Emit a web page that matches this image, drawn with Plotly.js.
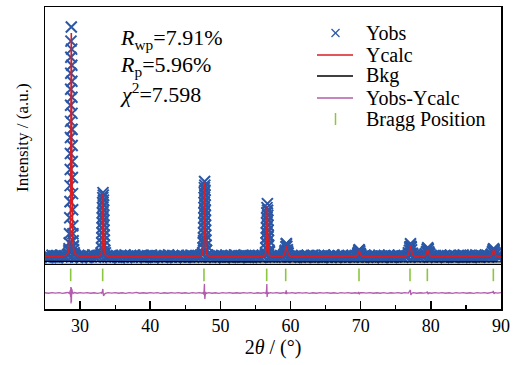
<!DOCTYPE html>
<html>
<head>
<meta charset="utf-8">
<script src="https://cdn.plot.ly/plotly-3.0.1.min.js"></script>
<style>
html,body{margin:0;padding:0;background:#fff;}
#chart{width:517px;height:365px;}
</style>
</head>
<body>
<div id="chart"></div>
<script>
// ---- 2theta grid of the observed pattern (step scan) ----
const tthStart = 25.0;
const tthStep = 0.2;
// observed intensity on the step grid (a.u.)
const yobsGrid = [
 108, 96,112,101, 93,115,104, 98,110, 92,106,117, 99,103,111, 95,120,160,650,1370,
 200,125,109, 97,114,102, 91,108,116,100, 94,113,105, 98,119,103, 96,110,101,115,
 130,490,315,140,112, 99,107, 93,116,104, 97,111,102, 90,114,106, 99,118, 95,108,
 101,113, 96,109,117, 92,105,100,112, 98,115,103, 94,110,107, 99,116, 91,104,112,
  97,108,114,100, 93,111,106, 95,118,102, 99,113,104, 92,109,116,101, 97,110,105,
  94,112,103, 99,117,106, 96,110,101,114, 98,108,125,260,565,165,118,103, 96,111,
 107, 93,115,100,109, 97,113,104, 91,116,102, 98,111,106, 95,119,103,100,108, 94,
 112,101, 97,114,105, 92,110, 99,117,103, 96,109,113,100, 94,111,106,120,340,300,
 150,112, 99,108, 95,115,102, 97,110,104,118,150,230,150,105, 98,113,101, 93,109,
 116,104, 96,111,100,107, 93,114,102, 98,110,117, 95,106,101,113, 99,108, 92,115,
 103, 97,112,106, 94,109,118,100, 96,111,104, 99,115,102, 93,108,113, 97,105,110,
  98,114,101,135,165,112, 96,107,117,103, 95,110,100,106, 92,113,104, 99,116,102,
 109, 94,111,105, 98,115,101, 93,108,112, 97,104,117,100,106, 95,113,102,110,140,
 190,195,130,108, 99,114,103, 96,111,105,118,130,150,180,135,101, 97,112,106, 94,
 110,103,117, 98,107,113, 95,101,109,116,100, 93,112,105, 97,114,102,108,119, 96,
 104,111, 99,115, 93,107,102,118,100,109, 96,113,105, 98,110,117,101,108,125,150,
 170,128,106, 99,112,103
];
// extra observed points on the steep flanks of the reflections
const yobsPeakX = [
 28.35,28.42,28.46,28.50,28.53,28.56,28.58,28.60,28.62,28.63,28.64,28.65,28.66,28.67,28.68,28.70,28.75,
 28.80,28.82,28.83,28.84,28.85,28.86,28.87,28.88,28.90,28.92,28.94,28.96,28.98,29.01,29.04,29.08,29.16,
 33.02,33.06,33.09,33.11,33.13,33.15,33.17,33.18,33.19,33.20,33.22,33.24,33.27,
 33.31,33.33,33.35,33.36,33.37,33.38,33.39,33.41,33.43,33.45,33.48,33.52,
 47.48,47.52,47.56,47.59,47.61,47.63,47.64,47.65,47.66,47.67,47.68,47.69,47.70,47.72,47.75,
 47.78,47.80,47.81,47.82,47.83,47.84,47.85,47.86,47.88,47.89,47.91,47.93,47.97,48.02,
 56.43,56.47,56.51,56.54,56.56,56.58,56.59,56.60,56.62,56.64,
 56.70,56.73,56.75,56.76,56.78,56.80,56.82,56.85,56.88,56.93,
 59.15,59.25,59.33,59.40,59.47,59.55,59.65,
 69.55,69.65,69.72,69.78,69.85,69.93,70.02,
 76.85,76.95,77.03,77.10,77.17,77.25,77.35,
 79.30,79.40,79.48,79.55,79.62,79.70,79.80,
 88.70,88.80,88.88,88.95,89.02,89.10,89.20
];
const yobsPeakY = [
 130,180,240,330,490,650,810,970,1130,1290,1450,1610,1770,1930,2090,2250,2390,
 2170,2010,1850,1690,1530,1370,1210,1050,890,730,570,410,330,260,210,170,140,
 140,190,240,290,340,390,440,490,540,590,640,690,740,
 715,665,615,565,515,465,415,365,315,265,215,165,
 140,190,240,290,340,390,440,490,540,590,640,690,740,790,850,
 815,765,715,665,615,565,515,465,415,365,315,265,215,165,
 140,190,240,290,340,390,440,490,540,590,
 630,565,515,465,415,365,315,265,215,165,
 130,165,200,230,205,170,135,
 120,140,160,170,155,135,120,
 130,165,200,230,205,170,135,
 125,150,175,190,175,150,125,
 125,150,170,180,165,145,125
];
// calculated profile
const ycalcX = [
 25.0,
 27.25,27.95,28.25,28.45,28.55,28.60,28.65,28.69,28.72,28.75,28.78,28.81,28.85,28.90,28.95,29.05,29.25,29.55,30.25,
 31.78,32.48,32.78,32.98,33.08,33.13,33.18,33.22,33.25,33.28,33.31,33.34,33.38,33.43,33.48,33.58,33.78,34.08,34.78,
 46.25,46.95,47.25,47.45,47.55,47.60,47.65,47.69,47.72,47.75,47.78,47.81,47.85,47.90,47.95,48.05,48.25,48.55,49.25,
 55.18,55.88,56.18,56.38,56.48,56.53,56.58,56.62,56.65,56.68,56.71,56.74,56.78,56.83,56.88,56.98,57.18,57.48,58.18,
 58.4,58.8,59.0,59.15,59.25,59.325,59.40,59.475,59.55,59.65,59.80,60.0,60.4,
 68.78,69.18,69.38,69.53,69.63,69.705,69.78,69.855,69.93,70.03,70.18,70.38,70.78,
 76.1,76.5,76.7,76.85,76.95,77.025,77.10,77.175,77.25,77.35,77.50,77.70,78.1,
 78.55,78.95,79.15,79.30,79.40,79.475,79.55,79.625,79.70,79.80,79.95,80.15,80.55,
 87.95,88.35,88.55,88.70,88.80,88.875,88.95,89.025,89.10,89.20,89.35,89.55,89.95,
 90.0
];
const ycalcY = [
 103,
 104,112,132,186,284,408,690,1215,1884,2330,1884,1215,690,408,284,186,132,112,104,
 101,103,109,125,152,187,267,415,604,730,604,415,267,187,152,125,109,103,101,
 101,104,111,129,161,202,296,470,692,840,692,470,296,202,161,129,111,104,101,
 101,103,107,120,142,170,234,352,504,605,504,352,234,170,142,120,107,103,101,
 102,106,113,128,152,184,205,184,152,128,113,106,102,
 101,104,107,116,130,148,160,148,130,116,107,104,101,
 102,106,114,129,155,188,210,188,155,129,114,106,102,
 102,104,109,119,135,156,170,156,135,119,109,104,102,
 102,104,109,119,135,156,170,156,135,119,109,104,102,
 101
];
// background
const bkgX = [25, 35, 50, 70, 90];
const bkgY = [55, 52, 50, 49, 50];
// difference curve Yobs - Ycalc (drawn shifted by diffOffset)
const diffOffset = -260;
const diffX = [
 25.0,25.5,26.0,26.5,27.0,27.5,28.0,28.3,
 28.5,28.6,28.65,28.68,28.71,28.74,28.77,28.80,28.84,28.9,29.0,29.2,
 29.6,30.0,30.5,31.0,31.5,32.0,32.5,33.0,
 33.1,33.2,33.25,33.3,33.35,33.45,33.6,
 34.0,34.5,35.0,35.5,36.0,36.5,37.0,37.5,38.0,38.5,39.0,39.5,40.0,40.5,41.0,41.5,42.0,42.5,43.0,43.5,44.0,44.5,45.0,45.5,46.0,46.5,47.0,47.4,
 47.55,47.65,47.70,47.73,47.76,47.79,47.84,47.9,48.0,
 48.3,48.8,49.3,49.8,50.3,50.8,51.3,51.8,52.3,52.8,53.3,53.8,54.3,54.8,55.3,55.8,56.2,
 56.5,56.58,56.62,56.66,56.70,56.75,56.85,57.1,
 57.5,58.0,58.5,59.0,
 59.3,59.38,59.45,59.55,
 59.8,60.2,60.7,61.2,61.7,62.2,62.7,63.2,63.7,64.2,64.7,65.2,65.7,66.2,66.7,67.2,67.7,68.2,68.7,69.2,
 69.6,69.7,69.8,69.95,
 70.3,70.8,71.3,71.8,72.3,72.8,73.3,73.8,74.3,74.8,75.3,75.8,76.3,76.8,
 77.0,77.08,77.15,77.25,77.5,
 78.0,78.5,79.0,79.4,
 79.5,79.6,79.75,
 80.1,80.6,81.1,81.6,82.1,82.6,83.1,83.6,84.1,84.6,85.1,85.6,86.1,86.6,87.1,87.6,88.1,88.6,
 88.85,88.9,89.0,89.15,89.5,90.0
];
const diffY = [
 2,-3,4,-2,3,-4,2,5,
 -8,25,-40,60,-105,55,-90,40,-30,15,-5,4,
 -3,3,-2,4,-3,2,-4,3,
 -5,30,40,-10,-30,-15,-5,
 3,-2,4,-3,2,-4,3,-2,5,-3,2,-3,4,-2,3,-4,2,-3,4,-2,3,-3,2,-4,3,-2,4,-3,
 5,-15,60,90,-30,-60,-20,10,-5,
 3,-3,2,-4,3,-2,4,-3,2,-3,4,-2,3,-4,2,-3,3,
 -5,30,90,-40,-30,10,-5,3,
 -2,3,-3,2,
 -5,25,-10,3,
 -2,3,-3,4,-2,3,-4,2,-3,3,-2,4,-3,2,-4,3,-2,3,-3,2,
 -3,10,-8,2,
 3,-2,4,-3,2,-3,3,-4,2,-2,3,-3,4,-2,
 20,30,-20,-5,3,
 -3,2,-2,3,
 12,-10,2,
 -3,3,-2,4,-3,2,-4,3,-2,3,-3,2,-4,3,-2,4,-3,2,
 8,20,-10,3,-2,3
];
// Bragg reflection positions
const braggPos = [28.66, 33.22, 47.66, 56.60, 59.31, 69.76, 77.03, 79.50, 88.91];
const braggLevel = -80;
const separatorLevel = 25;
const xTicks = [30, 40, 50, 60, 70, 80, 90];
const legendNames = ['Yobs', 'Ycalc', 'Bkg', 'Yobs-Ycalc', 'Bragg Position'];
const statLines = ['<i>R</i><sub>wp</sub>=7.91%', '<i>R</i><sub>p</sub>=5.96%', '<i>χ</i><sup>2</sup>=7.598'];
const yTitle = 'Intensity / (a.u.)';
const xTitle = '2<i>θ</i> / (°)';

// ---- styling ----
const FONT = 'Liberation Serif';
const C = {obs: '#2b57a6', calc: '#d81e25', bkg: '#000000', diff: '#b25cae', bragg: '#8cc63f'};
const W = 517, H = 365, M = {l: 45, r: 16, t: 7, b: 56};
const pw = W - M.l - M.r, ph = H - M.t - M.b;
const px = x => (x - M.l) / pw;          // page pixel -> paper x
const py = y => 1 - (y - M.t) / ph;      // page pixel -> paper y

// ---- traces ----
const obsX = yobsGrid.map((v, i) => tthStart + i * tthStep).concat(yobsPeakX);
const obsY = yobsGrid.concat(yobsPeakY);

const traces = [
  {x: obsX, y: obsY, type: 'scatter', mode: 'markers', name: legendNames[0], showlegend: false,
   marker: {symbol: 'x-thin', size: 11, color: C.obs, line: {color: C.obs, width: 2}}},
  {x: ycalcX, y: ycalcY, type: 'scatter', mode: 'lines', name: legendNames[1], showlegend: false,
   line: {color: C.calc, width: 1.6}},
  {x: bkgX, y: bkgY, type: 'scatter', mode: 'lines', name: legendNames[2], showlegend: false,
   line: {color: C.bkg, width: 1.1}},
  {x: diffX, y: diffY.map(d => d + diffOffset), type: 'scatter', mode: 'lines', name: legendNames[3], showlegend: false,
   line: {color: C.diff, width: 1.3}},
  {x: braggPos, y: braggPos.map(() => braggLevel), type: 'scatter', mode: 'markers', name: legendNames[4], showlegend: false,
   marker: {symbol: 'line-ns', size: 9, color: C.bragg, line: {color: C.bragg, width: 1.6}}}
];

// ---- hand-drawn legend (keys + labels) ----
const legRowY = [33, 55, 76, 98, 119];
const keyX0 = 317, keyX1 = 353, keyXc = 335.5, labelX = 364;
const seg = (x0, y0, x1, y1, color, width) => ({type: 'line', xref: 'paper', yref: 'paper',
  x0: px(x0), y0: py(y0), x1: px(x1), y1: py(y1), line: {color: color, width: width}});
const legendShapes = [
  seg(keyXc - 4, legRowY[0] - 4, keyXc + 4, legRowY[0] + 4, C.obs, 1.3),
  seg(keyXc - 4, legRowY[0] + 4, keyXc + 4, legRowY[0] - 4, C.obs, 1.3),
  seg(keyX0, legRowY[1], keyX1, legRowY[1], C.calc, 1.5),
  seg(keyX0, legRowY[2], keyX1, legRowY[2], C.bkg, 1.3),
  seg(keyX0, legRowY[3], keyX1, legRowY[3], C.diff, 1.5),
  seg(keyXc, legRowY[4] - 6, keyXc, legRowY[4] + 6, C.bragg, 1.5)
];
const legendLabels = legendNames.map((n, i) => ({xref: 'paper', yref: 'paper', x: px(labelX), y: py(legRowY[i]),
  xanchor: 'left', yanchor: 'middle', showarrow: false, text: n, font: {family: FONT, size: 20, color: '#000'}}));

const statRowY = [39, 66, 93];
const statLabels = statLines.map((t, i) => ({xref: 'paper', yref: 'paper', x: px(118), y: py(statRowY[i]),
  xanchor: 'left', yanchor: 'middle', showarrow: false, text: t, font: {family: FONT, size: 22, color: '#000'}}));

const yTitleLabel = {xref: 'paper', yref: 'paper', x: px(22), y: py(138), xanchor: 'center', yanchor: 'middle',
  showarrow: false, textangle: -90, text: yTitle, font: {family: FONT, size: 17, color: '#000'}};

const layout = {
  width: W, height: H,
  margin: M,
  paper_bgcolor: '#fff', plot_bgcolor: '#fff',
  font: {family: FONT, size: 18, color: '#000'},
  showlegend: false,
  xaxis: {range: [25, 90], tickvals: xTicks, ticktext: xTicks.map(String),
          ticks: 'inside', ticklen: 8, tickwidth: 1.5, tickcolor: '#000',
          minor: {ticks: 'inside', ticklen: 4, tickwidth: 1.3, tickcolor: '#000', tickvals: [35,45,55,65,75,85]},
          showline: true, mirror: true, linewidth: 1.5, linecolor: '#000',
          showgrid: false, zeroline: false,
          tickfont: {family: FONT, size: 18, color: '#000'},
          title: {text: xTitle, font: {family: FONT, size: 20, color: '#000'}, standoff: 5}},
  yaxis: {range: [-420, 2590], showticklabels: false, ticks: '',
          showline: true, mirror: true, linewidth: 1.5, linecolor: '#000',
          showgrid: false, zeroline: false},
  shapes: [
    {type: 'line', xref: 'paper', yref: 'y', x0: 0, x1: 1, y0: separatorLevel, y1: separatorLevel,
     line: {color: '#000', width: 1.2}}
  ].concat(legendShapes),
  annotations: legendLabels.concat(statLabels, [yTitleLabel])
};

Plotly.newPlot('chart', traces, layout, {displayModeBar: false, staticPlot: true});
</script>
</body>
</html>
